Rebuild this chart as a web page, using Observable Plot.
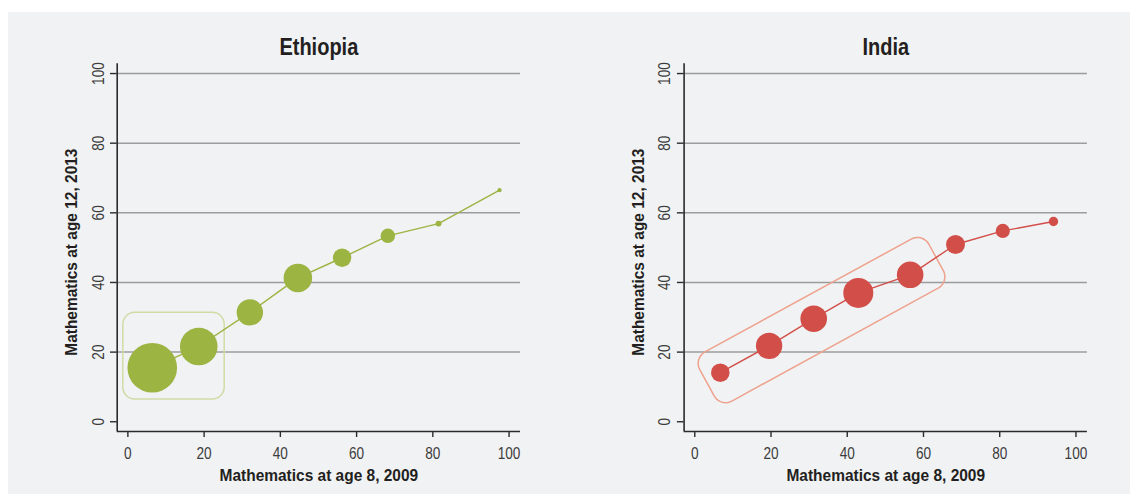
<!DOCTYPE html>
<html>
<head>
<meta charset="utf-8">
<script src="https://cdn.jsdelivr.net/npm/d3@7"></script>
<script src="https://cdn.jsdelivr.net/npm/@observablehq/plot@0.6"></script>
<style>
  html, body { margin: 0; padding: 0; background: #ffffff; }
  #wrap { position: relative; width: 1130px; height: 495px; overflow: hidden; }
  #bg { position: absolute; left: 8px; top: 12px; width: 1122px; height: 482px; background: #f1f2f4; }
  .panel { position: absolute; top: 0; }
  .panel svg { background: transparent !important; }
</style>
</head>
<body>
<div id="wrap">
  <div id="bg"></div>
  <div id="p1" class="panel" style="left:0px"></div>
  <div id="p2" class="panel" style="left:565px"></div>
</div>
<script>
// ---- data ----
const panelTitles = ["Ethiopia", "India"];
const xTitle = "Mathematics at age 8, 2009";
const yTitle = "Mathematics at age 12, 2013";
const xTicks = [0, 20, 40, 60, 80, 100];
const yTicks = [0, 20, 40, 60, 80, 100];
const gridTicks = [20, 40, 60, 80, 100];

// Ethiopia: score at age 8 (x), score at age 12 (y), share of children (bubble size)
const ethX = [6.4, 18.6, 32.0, 44.6, 56.2, 68.2, 81.5, 97.5];
const ethY = [15.5, 21.6, 31.4, 41.3, 47.1, 53.4, 56.9, 66.5];
const ethShare = [41.1, 23.6, 11.6, 13.6, 5.7, 3.5, 0.6, 0.3];

// India
const indX = [6.7, 19.5, 31.2, 42.9, 56.5, 68.4, 80.8, 94.1];
const indY = [14.1, 21.8, 29.6, 37.0, 42.2, 50.9, 54.8, 57.5];
const indShare = [8.6, 17.4, 17.7, 22.5, 17.7, 9.0, 5.0, 2.2];

// highlight boxes (data coordinates)
const ethBox = [{x1: -1.2, x2: 25.4, y1: 6.4, y2: 31.3}];
const indBox = [{x1: 3.2, y1: 11.2, x2: 63.3, y2: 47.2}]; // centre axis of the tilted box

// ---- layout / style ----
const xDomain = [-2.8, 103];
const yDomain = [-2.8, 102.8];
const W = 565, H = 495;
const FONT = "'Liberation Sans', Arial, Helvetica, sans-serif";

function rows(xs, ys, ss) { return xs.map((x, i) => ({x, y: ys[i], share: ss[i]})); }

function roundedBand(box, halfW, rad, sx, sy) {
  const ax = sx.apply(box.x1), ay = sy.apply(box.y1), bx = sx.apply(box.x2), by = sy.apply(box.y2);
  const cx = (ax + bx) / 2, cy = (ay + by) / 2;
  const L = Math.hypot(bx - ax, by - ay) / 2;
  const ux = (bx - ax) / (2 * L), uy = (by - ay) / (2 * L);
  const vx = -uy, vy = ux;
  const corners = [[1, 1, 0], [-1, 1, 90], [-1, -1, 180], [1, -1, 270]];
  const pts = [];
  for (const [ss, tt, a0] of corners) {
    for (let k = 0; k <= 10; k++) {
      const a = (a0 + k * 9) * Math.PI / 180;
      const s = ss * (L - rad) + rad * Math.cos(a);
      const t = tt * (halfW - rad) + rad * Math.sin(a);
      const px = cx + s * ux + t * vx, py = cy + s * uy + t * vy;
      pts.push({x: sx.invert(px), y: sy.invert(py)});
    }
  }
  return pts;
}

// emulate the condensed typeface of the original
function condense(svg, title) {
  d3.select(svg).selectAll("text").each(function() {
    const t = this.textContent;
    let f = 0.8;
    if (t === title) f = 0.87;
    else if (t === xTitle || t === yTitle) f = 0.95;
    const len = this.getComputedTextLength();
    if (len > 0) {
      this.setAttribute("textLength", (len * f).toFixed(2));
      this.setAttribute("lengthAdjust", "spacingAndGlyphs");
    }
  });
}

function panel(el, cfg) {
  const ml = cfg.marginLeft, mr = W - ml - 403.3, mt = 63.3, mb = 64;
  const sx = Plot.scale({x: {domain: xDomain, range: [ml, W - mr]}});
  const sy = Plot.scale({y: {domain: yDomain, range: [H - mb, mt]}});
  const data = cfg.data;
  const marks = [
    Plot.ruleY(gridTicks, {stroke: "#9c9c9c", strokeWidth: 1.5}),
    Plot.ruleX([xDomain[0]], {stroke: "#2b2b2b", strokeWidth: 1.6}),
    Plot.ruleY([yDomain[0]], {stroke: "#2b2b2b", strokeWidth: 1.6}),
    Plot.axisX({ticks: xTicks, tickSize: 6, tickPadding: 9, label: null, strokeWidth: 1.4, fontSize: 17, fill: "#3c3c3c", stroke: "#2b2b2b"}),
    Plot.axisY({ticks: yTicks, tickSize: 6.7, tickPadding: 7, tickRotate: -90, label: null, strokeWidth: 1.4, fontSize: 17, fill: "#3c3c3c", stroke: "#2b2b2b"}),
  ];
  if (cfg.box === "rect") {
    marks.push(Plot.rect(ethBox, {x1: "x1", x2: "x2", y1: "y1", y2: "y2", rx: 12, fill: "none", stroke: cfg.boxColor, strokeWidth: 1.5}));
  } else {
    marks.push(Plot.line(roundedBand(indBox[0], 28, 13, sx, sy), {x: "x", y: "y", curve: "linear-closed", stroke: cfg.boxColor, strokeWidth: 1.5}));
  }
  marks.push(
    Plot.line(data, {x: "x", y: "y", stroke: cfg.color, strokeWidth: 1.4}),
    Plot.dot(data, {x: "x", y: "y", r: "share", fill: cfg.color, stroke: "none", sort: null}),
    Plot.text([cfg.title], {frameAnchor: "top", lineAnchor: "bottom", dy: -9.3, fontSize: 23, fontWeight: "bold", fill: "#231f20"}),
    Plot.text([xTitle], {frameAnchor: "bottom", lineAnchor: "bottom", dy: 49, fontSize: 16.3, fontWeight: "bold", fill: "#231f20"}),
    Plot.text([yTitle], {frameAnchor: "left", textAnchor: "middle", lineAnchor: "bottom", rotate: -90, dx: -40, dy: 4.5, fontSize: 16.3, fontWeight: "bold", fill: "#231f20"})
  );
  const chart = Plot.plot({
    width: W, height: H,
    marginLeft: ml, marginRight: mr, marginTop: mt, marginBottom: mb,
    x: {domain: xDomain, axis: null},
    y: {domain: yDomain, axis: null},
    r: {domain: [0, cfg.rMax], range: [0, cfg.rPx]},
    style: {fontFamily: FONT, fontSize: "17px", background: "transparent", color: "#2b2b2b"},
    marks
  });
  document.getElementById(el).appendChild(chart);
  condense(chart, cfg.title);
}

panel("p1", {title: panelTitles[0], data: rows(ethX, ethY, ethShare), color: "#9cb442", boxColor: "#d0dca6", box: "rect", rMax: 41.1, rPx: 24.8, marginLeft: 116.7});
panel("p2", {title: panelTitles[1], data: rows(indX, indY, indShare), color: "#d24e48", boxColor: "#eea28d", box: "band", rMax: 22.5, rPx: 15, marginLeft: 118.6});
</script>
</body>
</html>
